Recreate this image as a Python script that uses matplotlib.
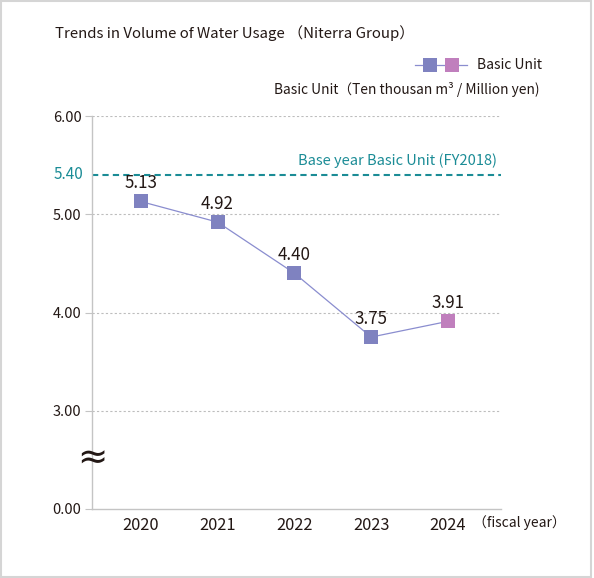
import matplotlib
matplotlib.use("Agg")
import matplotlib.pyplot as plt
from matplotlib.patches import Rectangle
from matplotlib.lines import Line2D
import matplotlib.transforms as mtransforms

plt.rcParams['font.family'] = ['Noto Sans CJK JP', 'DejaVu Sans']

# ---- data ----
years = ["2020", "2021", "2022", "2023", "2024"]
basic_unit = [5.13, 4.92, 4.40, 3.75, 3.91]
point_colors = ["#7f82c0", "#7f82c0", "#7f82c0", "#7f82c0", "#c07fbd"]
base_year_value = 5.40
y_tick_values = [2, 3, 4, 5, 6]
y_tick_labels = ["0.00", "3.00", "4.00", "5.00", "6.00"]

title = "Trends in Volume of Water Usage （Niterra Group）"
legend_label = "Basic Unit"
units_label = "Basic Unit（Ten thousan m³ / Million yen)"
base_label = "Base year Basic Unit (FY2018)"
x_unit_label = "（fiscal year）"

TEXT = "#231815"
TEAL = "#1b8c96"
GRID = "#bdbdbd"
AXIS = "#c4c4c4"
LINE = "#8a8dcf"

W, H = 594, 578
fig = plt.figure(figsize=(W / 100, H / 100), dpi=100)
ax = fig.add_axes([92 / W, 1 - 509 / H, (501 - 92) / W, (509 - 116) / H])

x = list(range(len(years)))
ax.set_xlim(-0.634, 4.69)
ax.set_ylim(2, 6)

# grid lines
for v in y_tick_values[1:]:
    ax.axhline(v, color=GRID, lw=0.8, linestyle=(0, (2, 2)), zorder=1)

# base year dashed line
ax.axhline(base_year_value, color=TEAL, lw=1.5, linestyle=(0, (3, 2)), zorder=2)

# series
ax.plot(x, basic_unit, color=LINE, lw=0.9, zorder=3)
ax.scatter(x, basic_unit, marker="s", s=14.0 ** 2 * 0.52, c=point_colors, zorder=4, linewidths=0)
for xi, v in zip(x, basic_unit):
    ax.annotate(f"{v:.2f}", xy=(xi, v), xytext=(0, 13.2), textcoords="offset points",
                ha="center", va="center", fontsize=12.2, color=TEXT, zorder=5)

# axes styling
for s in ["top", "right"]:
    ax.spines[s].set_visible(False)
for s in ["left", "bottom"]:
    ax.spines[s].set_color(AXIS)
    ax.spines[s].set_linewidth(1.0)
ax.set_yticks(y_tick_values)
ax.set_yticklabels(y_tick_labels)
ax.tick_params(axis="y", length=5, width=0.8, color=AXIS, pad=2.5, labelsize=10.5, labelcolor=TEXT)
ax.set_xticks(x)
ax.set_xticklabels(years)
ax.tick_params(axis="x", length=0, pad=5.5, labelsize=11.8, labelcolor=TEXT)

# 5.40 label
trans_y = mtransforms.blended_transform_factory(ax.transAxes, ax.transData)
ax.annotate(f"{base_year_value:.2f}", xy=(0, base_year_value), xycoords=trans_y,
            xytext=(-6.5, 0), textcoords="offset points", ha="right", va="center",
            fontsize=11, color=TEAL)
ax.annotate(base_label, xy=(1, base_year_value), xycoords=trans_y,
            xytext=(-3, 10), textcoords="offset points", ha="right", va="center",
            fontsize=10.5, color=TEAL)

# axis break mark
ax.annotate("≈", xy=(0, 2.51), xycoords=trans_y, ha="center", va="center",
            fontsize=26, color=TEXT, family="DejaVu Sans", annotation_clip=False)

# figure texts
fig.text(55 / W, 1 - 33 / H, title, ha="left", va="center", fontsize=10.8, color=TEXT)
fig.text(540 / W, 1 - 90 / H, units_label, ha="right", va="center", fontsize=9.9, color=TEXT)
fig.text(477 / W, 1 - 65 / H, legend_label, ha="left", va="center", fontsize=10, color=TEXT)
fig.text(473 / W, 1 - 523 / H, x_unit_label, ha="left", va="center", fontsize=10, color=TEXT)

# legend glyph
ly = 1 - 65 / H
fig.add_artist(Line2D([415 / W, 467 / W], [ly, ly], transform=fig.transFigure, color=LINE, lw=0.9))
for px, c in zip([430, 452], [point_colors[0], point_colors[-1]]):
    fig.add_artist(Line2D([px / W], [ly], transform=fig.transFigure, marker="s",
                          markersize=10, color=c, markeredgewidth=0, linestyle="none"))

# border
fig.add_artist(Rectangle((1 / W, 1 / H), 590 / W, 576 / H, transform=fig.transFigure,
                         fill=False, edgecolor="#d5d5d5", lw=1.5))

fig.savefig("out.png", dpi=100)
